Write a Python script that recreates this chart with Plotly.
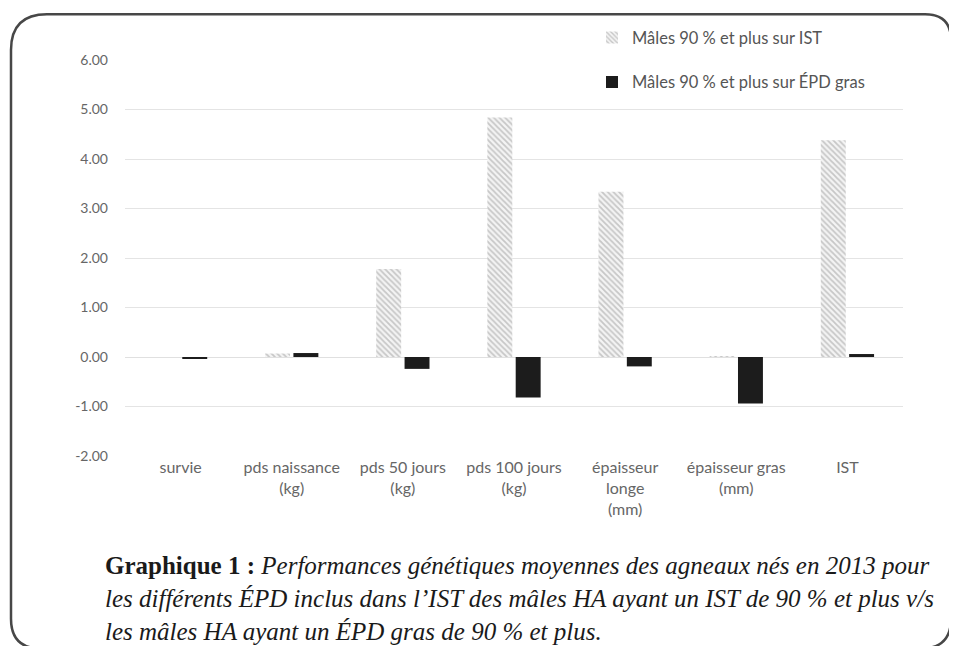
import plotly.graph_objects as go

categories = ["survie", "pds naissance<br>(kg)", "pds 50 jours<br>(kg)", "pds 100 jours<br>(kg)",
              "épaisseur<br>longe<br>(mm)", "épaisseur gras<br>(mm)", "IST"]
ist_values = [0.00, 0.07, 1.78, 4.84, 3.34, 0.02, 4.38]
gras_values = [-0.03, 0.08, -0.24, -0.82, -0.19, -0.94, 0.06]
series_names = ["Mâles 90 % et plus sur IST", "Mâles 90 % et plus sur ÉPD gras"]
y_ticks = [-2, -1, 0, 1, 2, 3, 4, 5, 6]
y_ticklabels = ["-2.00", "-1.00", "0.00", "1.00", "2.00", "3.00", "4.00", "5.00", "6.00"]

W, H = 957, 646
OFF = 8  # page body margin
L, R, T, B = 125, 903, 57, 456

def px(x):
    return (x - L) / (R - L)

def py(y):
    return (B - y) / (B - T)

fig = go.Figure()
fig.add_trace(go.Bar(
    x=categories, y=ist_values, name=series_names[0], legendgroup="a",
    marker=dict(color="white", line=dict(width=0),
                pattern=dict(shape="\\", fgcolor="#9a9a9a", bgcolor="#f4f4f4", size=4, solidity=0.45)),
))
fig.add_trace(go.Bar(
    x=categories, y=gras_values, name=series_names[1], legendgroup="b",
    marker=dict(color="#1c1c1c", line=dict(width=0)),
))

font_tick = dict(family="Lato, Open Sans, sans-serif", size=14, color="#666666")
font_cat = dict(family="Lato, Open Sans, sans-serif", size=16, color="#666666")

# rounded frame in paper coords
x0, x1, y0, y1 = 11, 951, 11, 650
r_tl, r_tr, r_b = 36, 26, 30
path = (f"M {px(x0)},{py(y0 + r_tl)} Q {px(x0)},{py(y0)} {px(x0 + r_tl)},{py(y0)} "
        f"L {px(x1 - r_tr)},{py(y0)} Q {px(x1)},{py(y0)} {px(x1)},{py(y0 + r_tr)} "
        f"L {px(x1)},{py(y1 - r_b)} Q {px(x1)},{py(y1)} {px(x1 - r_b)},{py(y1)} "
        f"L {px(x0 + r_b)},{py(y1)} Q {px(x0)},{py(y1)} {px(x0)},{py(y1 - r_b)} Z")

cap_font = dict(family="Liberation Serif, DejaVu Serif, serif", size=25, color="#1a1a1a")
caption_lines = [
    "<b>Graphique 1 :</b> <i>Performances génétiques moyennes des agneaux nés en 2013 pour</i>",
    "<i>les différents ÉPD inclus dans l’IST des mâles HA ayant un IST de 90 % et plus v/s</i>",
    "<i>les mâles HA ayant un ÉPD gras de 90 % et plus.</i>",
]
caption_y = [566, 600, 633]
annotations = [
    dict(text=t, x=px(103), y=py(yy), xref="paper", yref="paper", xanchor="left", yanchor="middle",
         showarrow=False, font=cap_font)
    for t, yy in zip(caption_lines, caption_y)
]

fig.update_layout(
    width=W - OFF, height=H - OFF,
    margin=dict(l=L - OFF, r=W - R, t=T - OFF, b=H - B, pad=0),
    paper_bgcolor="white", plot_bgcolor="rgba(0,0,0,0)",
    barmode="group", bargap=0.49, bargroupgap=0.12,
    showlegend=True,
    legend=dict(x=px(592), y=py(17), xanchor="left", yanchor="top", orientation="v",
                traceorder="grouped", tracegroupgap=20, bgcolor="rgba(0,0,0,0)",
                font=dict(family="Lato, Open Sans, sans-serif", size=16.5, color="#555555"),
                itemwidth=30),
    xaxis=dict(showgrid=False, showline=False, ticks="", tickfont=font_cat, tickangle=0),
    yaxis=dict(range=[-2, 6], tickvals=y_ticks, ticktext=y_ticklabels, tickfont=font_tick,
               showgrid=True, gridcolor="#e4e4e4", gridwidth=1, zeroline=True, zerolinecolor="#e0e0e0",
               zerolinewidth=1, showline=False, ticks="", ticklabelstandoff=16),
    shapes=[dict(type="path", path=path, xref="paper", yref="paper",
                 line=dict(color="#474747", width=2.5), layer="above")],
    annotations=annotations,
)

fig.write_html("out.html")
